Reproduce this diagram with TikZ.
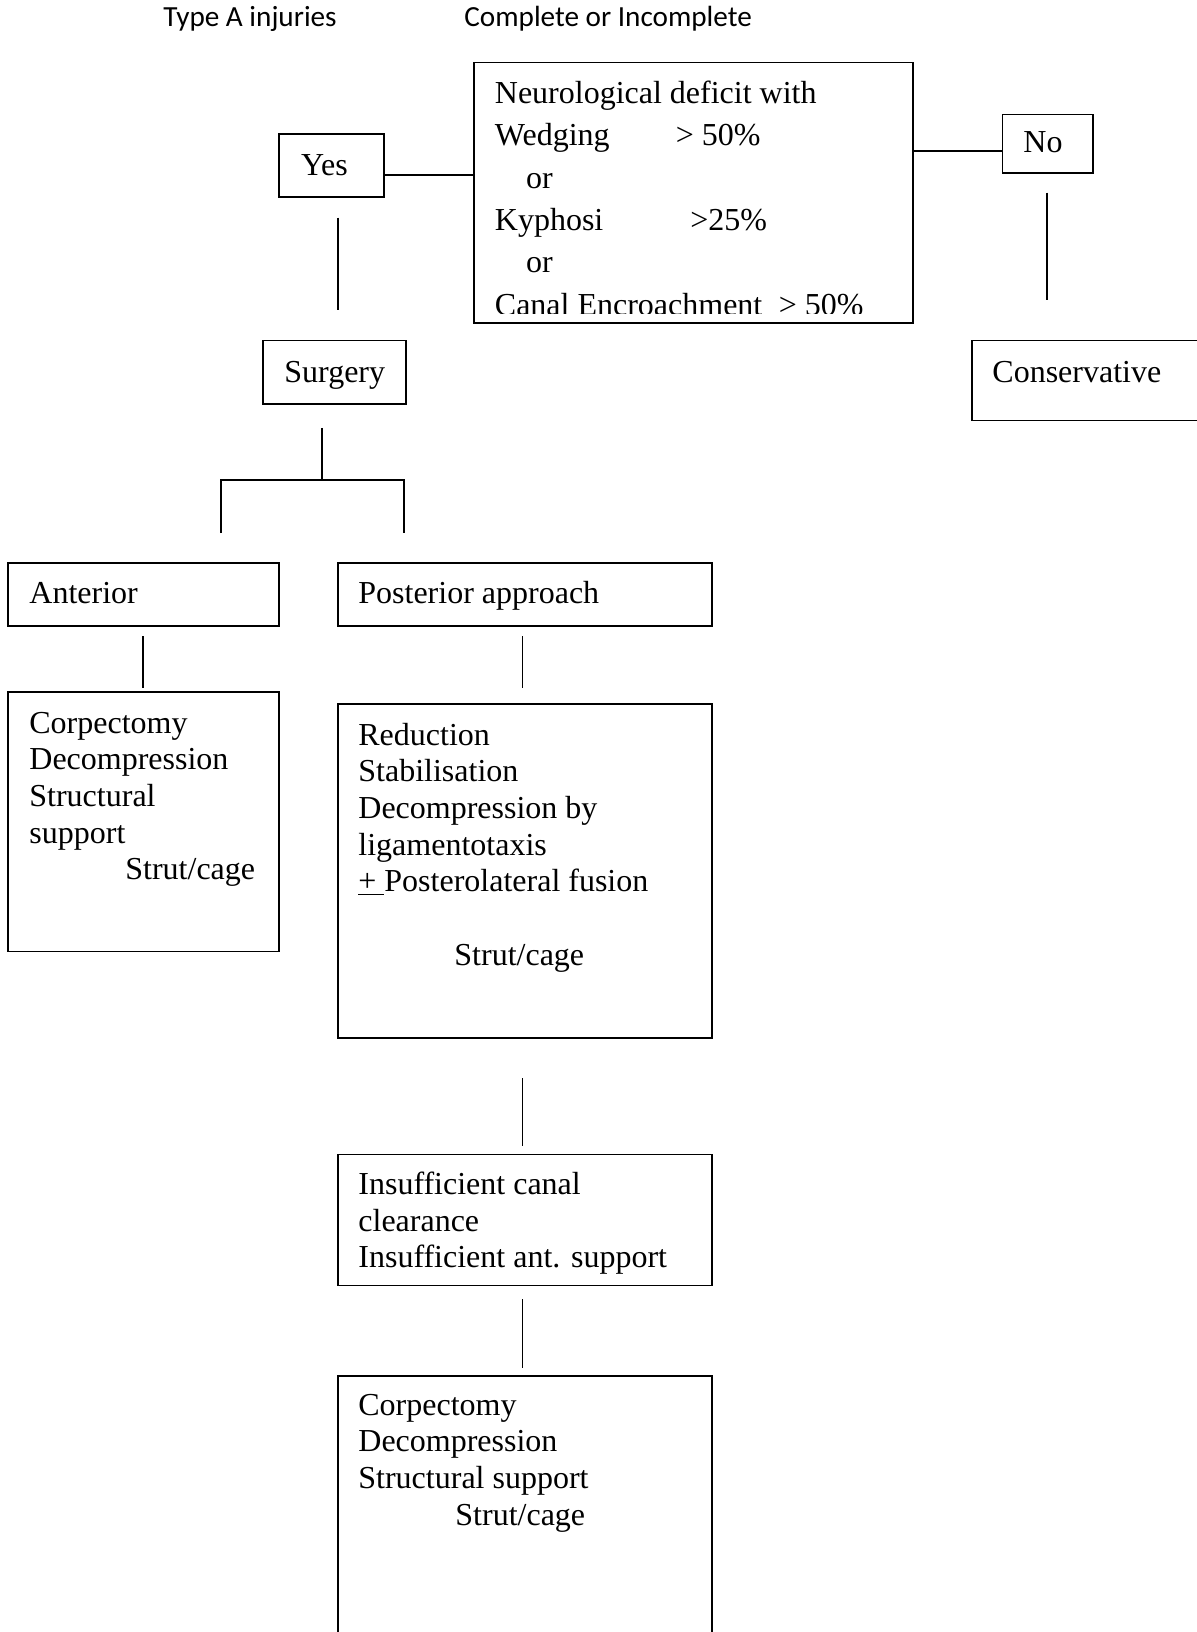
\documentclass[tikz,border=0pt]{standalone}
\usepackage{fontspec}
\setmainfont{Liberation Serif}
\newfontfamily\calfont{Carlito}
\usetikzlibrary{fit}
\tikzset{
  box/.style={draw, line width=0.9pt, inner sep=0pt, rectangle},
  txt/.style={anchor=base west, inner sep=0pt, font=\fontsize{16}{18}\selectfont},
  toptxt/.style={anchor=base west, inner sep=0pt, font=\calfont\fontsize{14.6}{17}\selectfont},
  conn/.style={line width=0.9pt}
}
\begin{document}
\begin{tikzpicture}[x=0.5pt,y=-0.5pt]
\useasboundingbox (0,0) rectangle (1196,1632);
% top labels
\node[toptxt] (typeA) at (163,27) {Type A injuries};
\node[toptxt] (compl) at (464,27) {Complete or Incomplete};
% boxes
\node[box, fit={(473.6,62.5) (912.9,322.7)}] (main) {};
\node[box, fit={(279,134.3) (384,196.7)}] (yes) {};
\node[box, fit={(1002.4,114.5) (1093,172.8)}] (no) {};
\node[box, fit={(263.3,340.4) (406,403.9)}] (surgery) {};
\node[box, fit={(972.2,340.4) (1210,420.5)}] (cons) {};
\node[box, fit={(8.3,563.1) (279,625.6)}] (ant) {};
\node[box, fit={(338.3,563.1) (712,625.6)}] (post) {};
\node[box, fit={(8.3,692.2) (279,951.4)}] (antbox) {};
\node[box, fit={(338.3,703.6) (712,1037.8)}] (redbox) {};
\node[box, fit={(338.3,1154.4) (712,1285.5)}] (insbox) {};
\node[box, fit={(338.3,1376.3) (712,1645)}] (finbox) {};
% main box text (clipped)
\begin{scope}
\clip (475,64) rectangle (911,313);
\node[txt] (m1) at (494.5,103.6) {Neurological deficit with};
\node[txt] (m2) at (494.5,145.9) {\makebox[90.5pt][l]{Wedging}> 50\%};
\node[txt] (m3) at (525.7,188.2) {or};
\node[txt] (m4) at (494.5,230.5) {\makebox[97.75pt][l]{Kyphosi}>25\%};
\node[txt] (m5) at (525.7,272.8) {or};
\node[txt] (m6) at (494.5,315.1) {\makebox[142pt][l]{Canal Encroachment}> 50\%};
\end{scope}
% small boxes text
\node[txt] (tyes) at (300.8,175.5) {Yes};
\node[txt] (tno) at (1023,152) {No};
\node[txt] (tsurg) at (284,382.6) {Surgery};
\node[txt] (tcons) at (992,382.6) {Conservative};
\node[txt] (tant) at (29,603) {Anterior};
\node[txt] (tpost) at (358,603) {Posterior approach};
% anterior detail
\node[txt] (a1) at (29,733) {Corpectomy};
\node[txt] (a2) at (29,769.7) {Decompression};
\node[txt] (a3) at (29,806.4) {Structural};
\node[txt] (a4) at (29,843) {support};
\node[txt] (a5) at (125,879.7) {Strut/cage};
% posterior detail
\node[txt] (r1) at (358,745) {Reduction};
\node[txt] (r2) at (358,781.7) {Stabilisation};
\node[txt] (r3) at (358,818.4) {Decompression by};
\node[txt] (r4) at (358,855) {ligamentotaxis};
\node[txt] (r5) at (358,891.7) {\underline{+\ }Posterolateral fusion};
\node[txt] (r6) at (454,965.2) {Strut/cage};
% insufficient
\node[txt] (i1) at (358,1194.5) {Insufficient canal};
\node[txt] (i2) at (358,1231.2) {clearance};
\node[txt] (i3) at (358,1267.9) {Insufficient ant. support};
% final
\node[txt] (f1) at (358,1415) {Corpectomy};
\node[txt] (f2) at (358,1451.7) {Decompression};
\node[txt] (f3) at (358,1488.4) {Structural support};
\node[txt] (f4) at (455,1525.1) {Strut/cage};
% connectors
\coordinate (ly) at (0,174.9);
\coordinate (ln) at (0,151);
\draw[conn] (yes.east |- ly) -- (main.west |- ly);
\draw[conn] (main.east |- ln) -- (no.west |- ln);
\coordinate (ya) at (338.3,217.6); \coordinate (yb) at (338.3,310.2);
\draw[conn] (ya) -- (yb);
\coordinate (na) at (1047.2,192.6); \coordinate (nb) at (1047.2,299.8);
\draw[conn] (na) -- (nb);
\coordinate (sa) at (321.6,427.8); \coordinate (sb) at (321.6,479.9);
\coordinate (sl) at (220.7,479.9); \coordinate (sr) at (403.9,479.9);
\coordinate (sld) at (220.7,533); \coordinate (srd) at (403.9,533);
\draw[conn] (sa) -- (sb);
\draw[conn] (sld) -- (sl) -- (sr) -- (srd);
\coordinate (aa) at (142.6,636); \coordinate (ab) at (142.6,688);
\draw[conn] (aa) -- (ab);
\coordinate (pa) at (522.5,636); \coordinate (pb) at (522.5,688);
\draw[conn] (pa) -- (pb);
\coordinate (qa) at (522.5,1078.4); \coordinate (qb) at (522.5,1146);
\draw[conn] (qa) -- (qb);
\coordinate (ua) at (522.5,1299); \coordinate (ub) at (522.5,1367.8);
\draw[conn] (ua) -- (ub);
\end{tikzpicture}
\end{document}
